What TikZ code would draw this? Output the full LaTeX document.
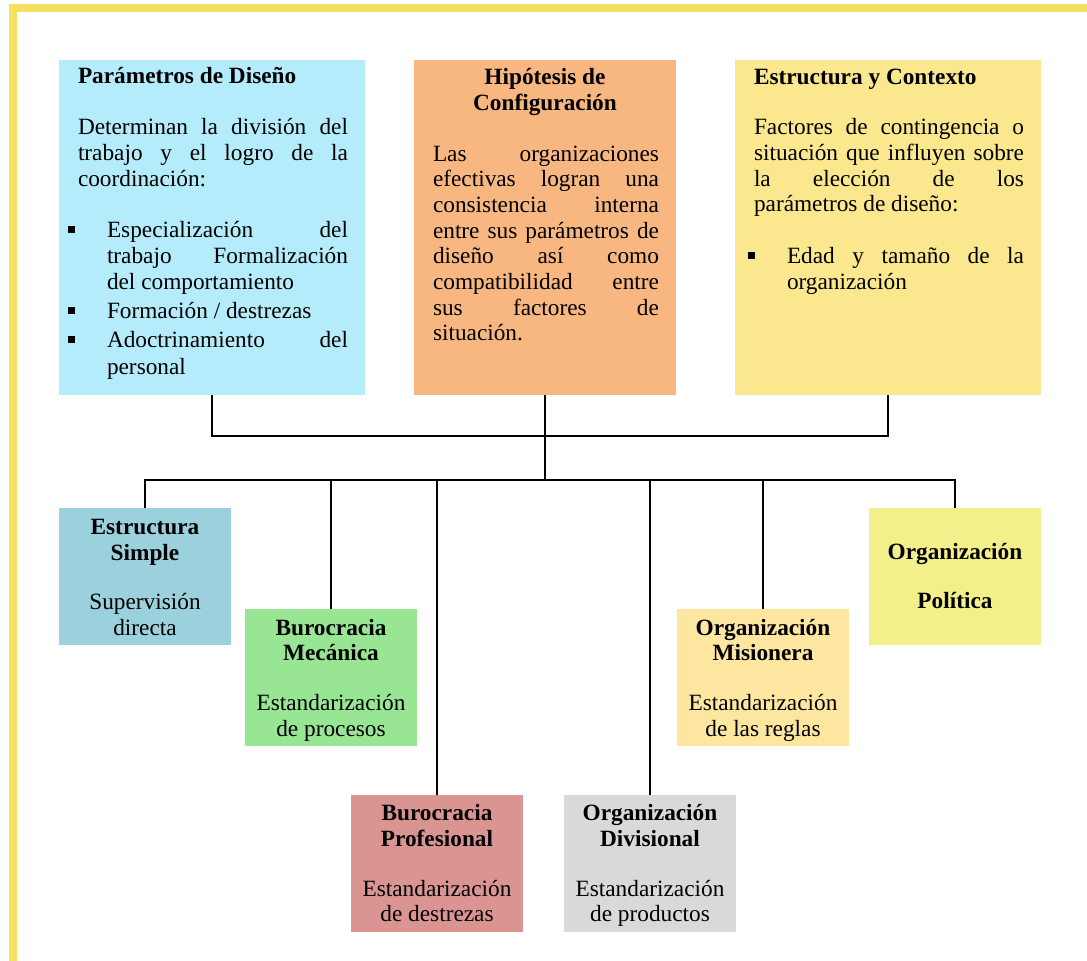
\documentclass[tikz,border=0pt]{standalone}
\usepackage{fontspec}
\setmainfont{Liberation Serif}

\definecolor{framey}{RGB}{243,225,95}
\definecolor{cyanbox}{RGB}{180,236,251}
\definecolor{orangebox}{RGB}{248,183,128}
\definecolor{yellowbox}{RGB}{251,231,141}
\definecolor{tealbox}{RGB}{155,208,221}
\definecolor{greenbox}{RGB}{152,229,148}
\definecolor{rosebox}{RGB}{218,149,147}
\definecolor{greybox}{RGB}{217,217,217}
\definecolor{creambox}{RGB}{253,230,160}
\definecolor{limebox}{RGB}{243,239,138}

% a line of text stretched to a given width
\newcommand{\jline}[2]{\makebox[#1][s]{#2}}
% square list marker hanging to the left of the item text
\newcommand{\sqbullet}{\llap{\rule[4.5pt]{7pt}{7pt}\hspace{32pt}}}

\begin{document}
\begin{tikzpicture}[x=1pt,y=-1pt,
  every node/.style={inner sep=0pt, outer sep=0pt, font=\fontsize{23.3pt}{25.7pt}\selectfont},
  bigbox/.style={fill=#1, anchor=north west, minimum width=306pt, minimum height=335pt},
  midbox/.style={fill=#1, anchor=north west, minimum width=262pt, minimum height=335pt},
  smallbox/.style={fill=#1, anchor=north west, minimum width=172pt, minimum height=137pt},
  ln/.style={anchor=base west},
  lc/.style={anchor=base},
  wire/.style={draw=black, line width=1.6pt},
  frame/.style={draw=framey, line width=8pt}]

\useasboundingbox (0,0) rectangle (1087,961);
\fill[white] (0,0) rectangle (1087,961);
\draw[frame] (13,965) -- (13,8) -- (1090,8);

% upper row
\node[bigbox=cyanbox] (b1) at (59,60) {};
\node[midbox=orangebox] (b2) at (414,60) {};
\node[bigbox=yellowbox] (b3) at (735,60) {};

% lower boxes
\node[smallbox=tealbox] (s1) at (59,508) {};
\node[smallbox=greenbox] (s2) at (245,609) {};
\node[smallbox=rosebox] (s3) at (351,795) {};
\node[smallbox=greybox] (s4) at (564,795) {};
\node[smallbox=creambox] (s5) at (677,609) {};
\node[smallbox=limebox] (s6) at (869,508) {};

% connectors
\coordinate (bar1) at (545,436);
\coordinate (bar2) at (545,480);
\draw[wire] (b1.south) |- (bar1) -| (b3.south);
\draw[wire] (b2.south) -- (bar2);
\draw[wire] (s1.north) |- (bar2) -| (s6.north);
\draw[wire] (s2.north) -- (s2.north |- bar2);
\draw[wire] (s3.north) -- (s3.north |- bar2);
\draw[wire] (s4.north) -- (s4.north |- bar2);
\draw[wire] (s5.north) -- (s5.north |- bar2);

% Parámetros de Diseño
\node[ln] (p0) at (78,83.5) {\textbf{Parámetros de Diseño}};
\node[ln] (p1) at (78,134.7) {\jline{270pt}{Determinan la división del}};
\node[ln] (p2) at (78,160.4) {\jline{270pt}{trabajo y el logro de la}};
\node[ln] (p3) at (78,186) {coordinación:};
\node[ln] (p4) at (107,237.4) {\sqbullet\jline{241pt}{Especialización del}};
\node[ln] (p5) at (107,263) {\jline{241pt}{trabajo Formalización}};
\node[ln] (p6) at (107,289) {del comportamiento};
\node[ln] (p7) at (107,318.3) {\sqbullet Formación / destrezas};
\node[ln] (p8) at (107,347.7) {\sqbullet\jline{241pt}{Adoctrinamiento del}};
\node[ln] (p9) at (107,374) {personal};

% Hipótesis de Configuración
\node[lc] (h0) at (545,84.3) {\textbf{Hipótesis de}};
\node[lc] (h1) at (545,110) {\textbf{Configuración}};
\node[ln] (h2) at (433,161) {\jline{226pt}{Las organizaciones}};
\node[ln] (h3) at (433,186.7) {\jline{226pt}{efectivas logran una}};
\node[ln] (h4) at (433,212.4) {\jline{226pt}{consistencia interna}};
\node[ln] (h5) at (433,238.1) {\jline{226pt}{entre sus parámetros de}};
\node[ln] (h6) at (433,263.8) {\jline{226pt}{diseño así como}};
\node[ln] (h7) at (433,289.5) {\jline{226pt}{compatibilidad entre}};
\node[ln] (h8) at (433,315.2) {\jline{226pt}{sus factores de}};
\node[ln] (h9) at (433,340.9) {situación.};

% Estructura y Contexto
\node[ln] (c0) at (754,84) {\textbf{Estructura y Contexto}};
\node[ln] (c1) at (754,134.7) {\jline{270pt}{Factores de contingencia o}};
\node[ln] (c2) at (754,160.4) {\jline{270pt}{situación que influyen sobre}};
\node[ln] (c3) at (754,186) {\jline{270pt}{la elección de los}};
\node[ln] (c4) at (754,211.7) {parámetros de diseño:};
\node[ln] (c5) at (787,263.4) {\sqbullet\jline{237pt}{Edad y tamaño de la}};
\node[ln] (c6) at (787,289) {organización};

% Estructura Simple
\node[lc] (t1a) at (s1.north |- 0,534) {\textbf{Estructura}};
\node[lc] (t1b) at (s1.north |- 0,560) {\textbf{Simple}};
\node[lc] (t1c) at (s1.north |- 0,609.5) {Supervisión};
\node[lc] (t1d) at (s1.north |- 0,635) {directa};

% Burocracia Mecánica
\node[lc] (t2a) at (s2.north |- 0,635) {\textbf{Burocracia}};
\node[lc] (t2b) at (s2.north |- 0,660.7) {\textbf{Mecánica}};
\node[lc] (t2c) at (s2.north |- 0,710) {Estandarización};
\node[lc] (t2d) at (s2.north |- 0,736) {de procesos};

% Burocracia Profesional
\node[lc] (t3a) at (s3.north |- 0,820.7) {\textbf{Burocracia}};
\node[lc] (t3b) at (s3.north |- 0,846.5) {\textbf{Profesional}};
\node[lc] (t3c) at (s3.north |- 0,896) {Estandarización};
\node[lc] (t3d) at (s3.north |- 0,921.7) {de destrezas};

% Organización Divisional
\node[lc] (t4a) at (s4.north |- 0,820.7) {\textbf{Organización}};
\node[lc] (t4b) at (s4.north |- 0,846.5) {\textbf{Divisional}};
\node[lc] (t4c) at (s4.north |- 0,896) {Estandarización};
\node[lc] (t4d) at (s4.north |- 0,921.7) {de productos};

% Organización Misionera
\node[lc] (t5a) at (s5.north |- 0,635) {\textbf{Organización}};
\node[lc] (t5b) at (s5.north |- 0,660.7) {\textbf{Misionera}};
\node[lc] (t5c) at (s5.north |- 0,710) {Estandarización};
\node[lc] (t5d) at (s5.north |- 0,736) {de las reglas};

% Organización Política
\node[lc] (t6a) at (s6.north |- 0,559.3) {\textbf{Organización}};
\node[lc] (t6b) at (s6.north |- 0,608.3) {\textbf{Política}};

\end{tikzpicture}
\end{document}
